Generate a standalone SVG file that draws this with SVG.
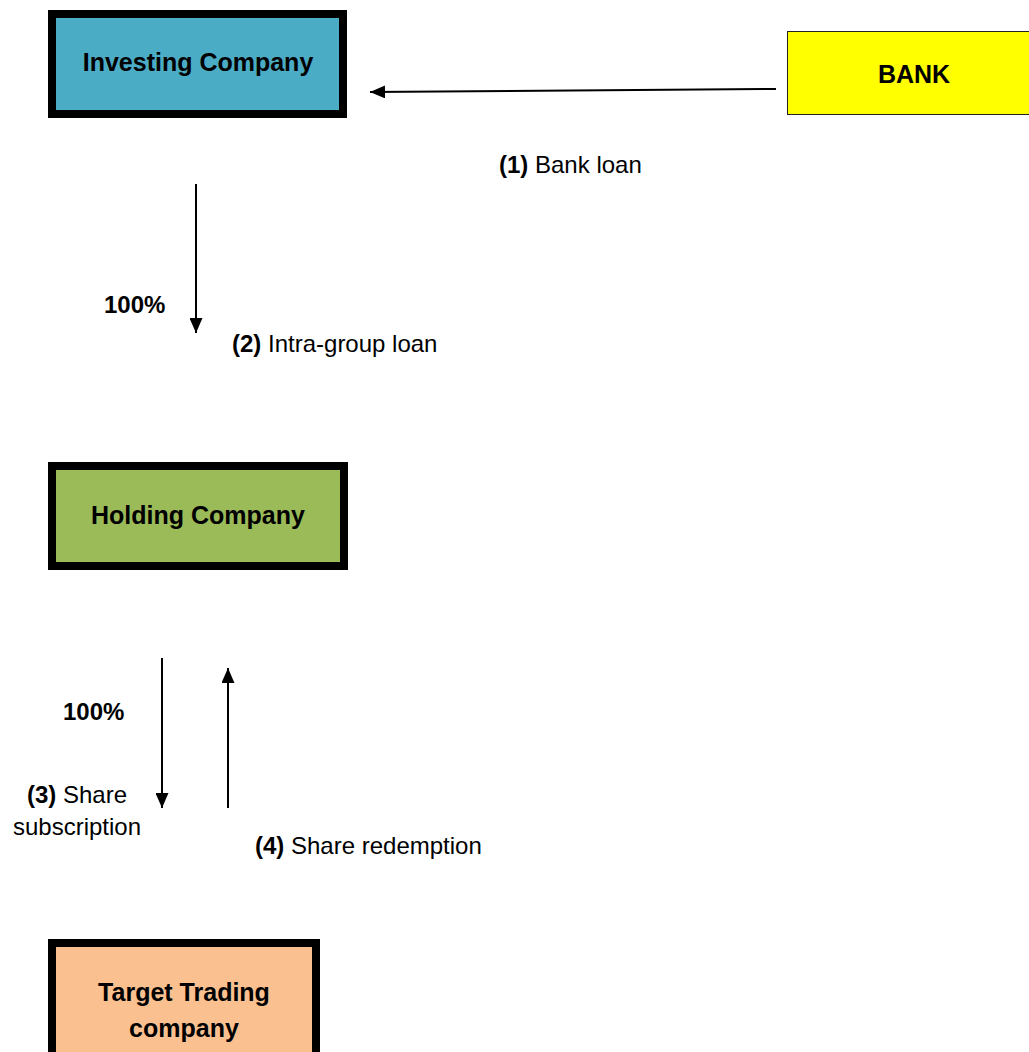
<svg xmlns="http://www.w3.org/2000/svg" width="1029" height="1052" viewBox="0 0 1029 1052">
  <style>
    .box { stroke: #000; stroke-width: 8; }
    .bank { stroke: #222; stroke-width: 1; }
    .title { font-family: "Liberation Sans", Arial, sans-serif; font-weight: bold; font-size: 25px; fill: #000; text-anchor: middle; }
    .lbl { font-family: "Liberation Sans", Arial, sans-serif; font-size: 24px; fill: #000; }
    .b { font-weight: bold; }
    .conn { stroke: #000; stroke-width: 2; fill: none; marker-end: url(#arrow); }
  </style>
  <defs>
    <marker id="arrow" markerUnits="userSpaceOnUse" markerWidth="15" markerHeight="13" refX="15" refY="6.5" orient="auto">
      <path d="M0,0 L15,6.5 L0,13 z" fill="#000"/>
    </marker>
  </defs>
  <rect width="1029" height="1052" fill="#fff"/>

  <g id="investing-company">
    <rect class="box" x="52" y="14" width="291" height="100" fill="#4BACC6"/>
    <text class="title" x="198" y="71">Investing Company</text>
  </g>

  <g id="bank">
    <rect class="bank" x="787.5" y="31.5" width="254" height="83" fill="#FFFF00"/>
    <text class="title" x="914" y="83">BANK</text>
  </g>

  <g id="holding-company">
    <rect class="box" x="52" y="466" width="292" height="100" fill="#9BBB59"/>
    <text class="title" x="198" y="524">Holding Company</text>
  </g>

  <g id="target-trading-company">
    <rect class="box" x="52" y="943" width="264" height="130" fill="#FAC090"/>
    <text class="title" x="184" y="1001">Target Trading</text>
    <text class="title" x="184" y="1037">company</text>
  </g>

  <g id="connectors">
    <line class="conn" x1="776" y1="89" x2="370" y2="92"/>
    <line class="conn" x1="196" y1="184" x2="196" y2="333"/>
    <line class="conn" x1="162" y1="658" x2="162" y2="808"/>
    <line class="conn" x1="228" y1="808" x2="228" y2="668"/>
  </g>

  <g id="labels">
    <text class="lbl" x="499" y="173"><tspan class="b">(1)</tspan> Bank loan</text>
    <text class="lbl b" x="104" y="313">100%</text>
    <text class="lbl" x="232" y="352"><tspan class="b">(2)</tspan> Intra-group loan</text>
    <text class="lbl b" x="63" y="720">100%</text>
    <text class="lbl" x="77" y="803" text-anchor="middle"><tspan class="b">(3)</tspan> Share</text>
    <text class="lbl" x="77" y="835" text-anchor="middle">subscription</text>
    <text class="lbl" x="255" y="854"><tspan class="b">(4)</tspan> Share redemption</text>
  </g>
</svg>
